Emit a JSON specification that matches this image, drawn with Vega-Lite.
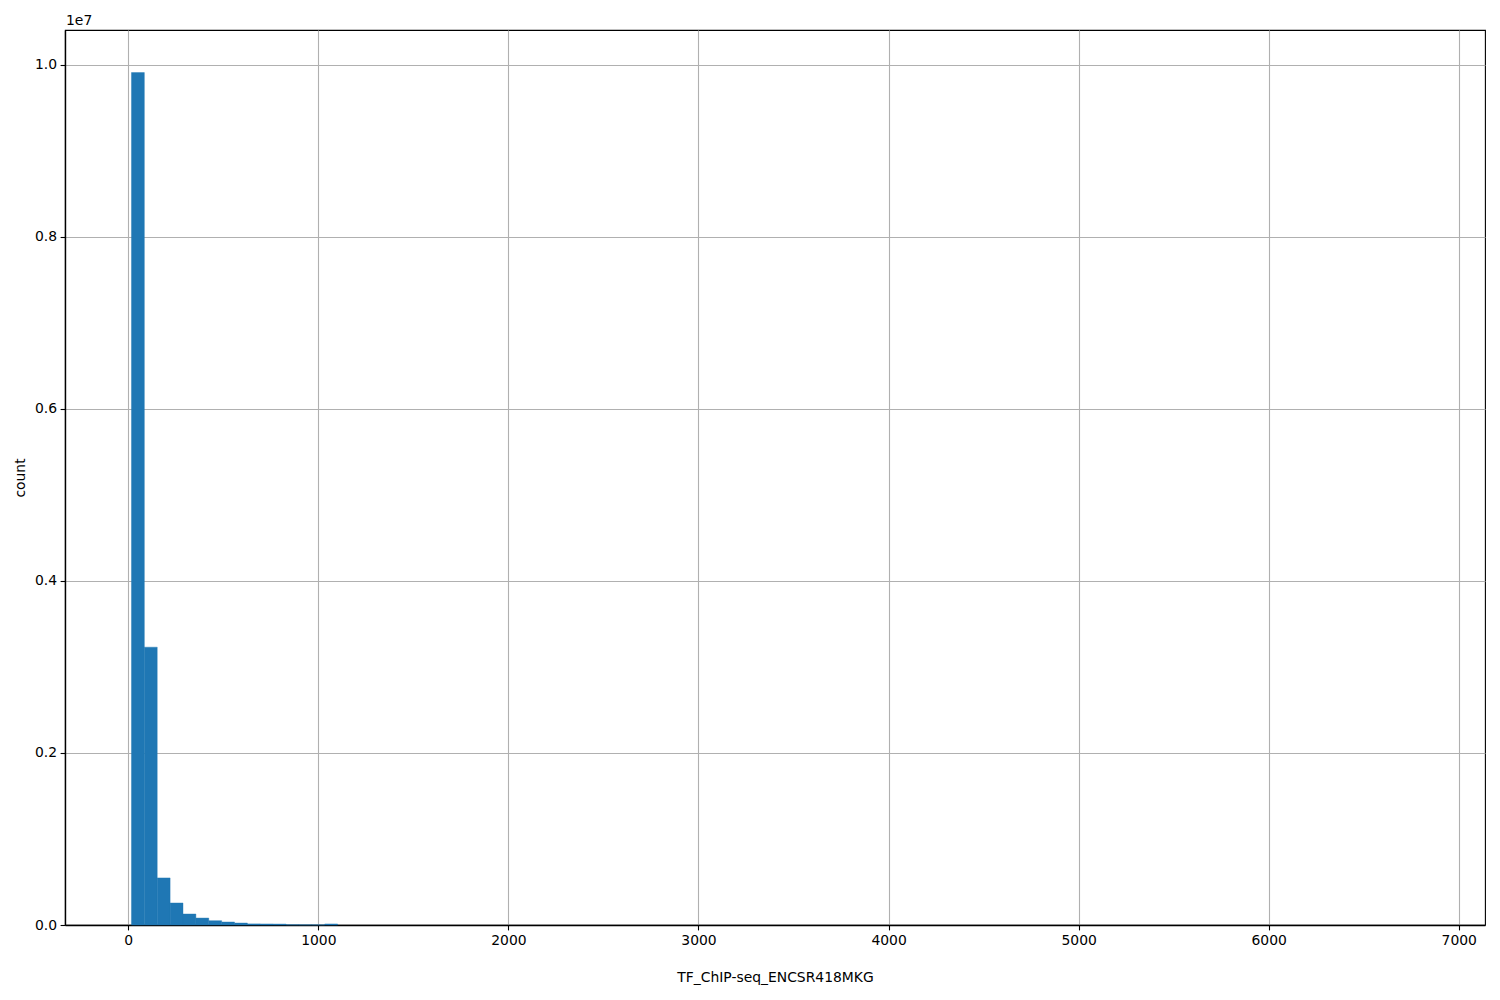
{
  "$schema": "https://vega.github.io/schema/vega-lite/v6.json",
  "width": 1420,
  "height": 895,
  "autosize": {"type": "none"},
  "padding": {"left": 65, "top": 30, "right": 15, "bottom": 75},
  "background": "white",
  "title": {
    "text": "1e7",
    "anchor": "start",
    "frame": "group",
    "font": "DejaVu Sans",
    "fontSize": 13.9,
    "fontWeight": "normal",
    "color": "black",
    "offset": 2,
    "dx": 1
  },
  "config": {
    "view": {"stroke": "black", "strokeWidth": 1.1},
    "axis": {
      "zindex": 1,
      "domain": true,
      "domainColor": "black",
      "domainWidth": 1.4,
      "grid": true,
      "gridColor": "#b0b0b0",
      "gridWidth": 1.1,
      "tickColor": "black",
      "tickWidth": 1.1,
      "tickSize": 4.9,
      "labelFont": "DejaVu Sans",
      "labelFontSize": 13.9,
      "labelColor": "black",
      "labelPadding": 3.5,
      "titleFont": "DejaVu Sans",
      "titleFontSize": 13.9,
      "titleFontWeight": "normal",
      "titleColor": "black"
    }
  },
  "data": {
    "values": [
      {"bin_start": 14.0, "bin_end": 81.8, "count": 9910000},
      {"bin_start": 81.8, "bin_end": 149.6, "count": 3230000},
      {"bin_start": 149.6, "bin_end": 217.4, "count": 547000},
      {"bin_start": 217.4, "bin_end": 285.2, "count": 256000},
      {"bin_start": 285.2, "bin_end": 353.0, "count": 128000},
      {"bin_start": 353.0, "bin_end": 420.8, "count": 81000},
      {"bin_start": 420.8, "bin_end": 488.6, "count": 50000},
      {"bin_start": 488.6, "bin_end": 556.4, "count": 35000},
      {"bin_start": 556.4, "bin_end": 624.2, "count": 23000},
      {"bin_start": 624.2, "bin_end": 692.0, "count": 13000},
      {"bin_start": 692.0, "bin_end": 759.8, "count": 12000},
      {"bin_start": 759.8, "bin_end": 827.6, "count": 11000},
      {"bin_start": 827.6, "bin_end": 895.4, "count": 3000},
      {"bin_start": 895.4, "bin_end": 963.2, "count": 2000},
      {"bin_start": 963.2, "bin_end": 1031.0, "count": 1500},
      {"bin_start": 1031.0, "bin_end": 1098.8, "count": 12000}
    ]
  },
  "mark": {"type": "bar", "color": "#1f77b4", "stroke": "#1f77b4", "strokeWidth": 0.4, "binSpacing": 0},
  "encoding": {
    "x": {
      "field": "bin_start",
      "type": "quantitative",
      "bin": "binned",
      "scale": {"domain": [-333, 7138], "nice": false, "zero": false},
      "axis": {
        "values": [0, 1000, 2000, 3000, 4000, 5000, 6000, 7000],
        "format": "d",
        "title": "TF_ChIP-seq_ENCSR418MKG",
        "titlePadding": 23
      }
    },
    "x2": {"field": "bin_end"},
    "y": {
      "field": "count",
      "type": "quantitative",
      "scale": {"domain": [0, 10405000], "nice": false},
      "axis": {
        "values": [0, 2000000, 4000000, 6000000, 8000000, 10000000],
        "labelExpr": "format(datum.value / 10000000, '.1f')",
        "title": "count",
        "titlePadding": 7
      }
    }
  }
}
